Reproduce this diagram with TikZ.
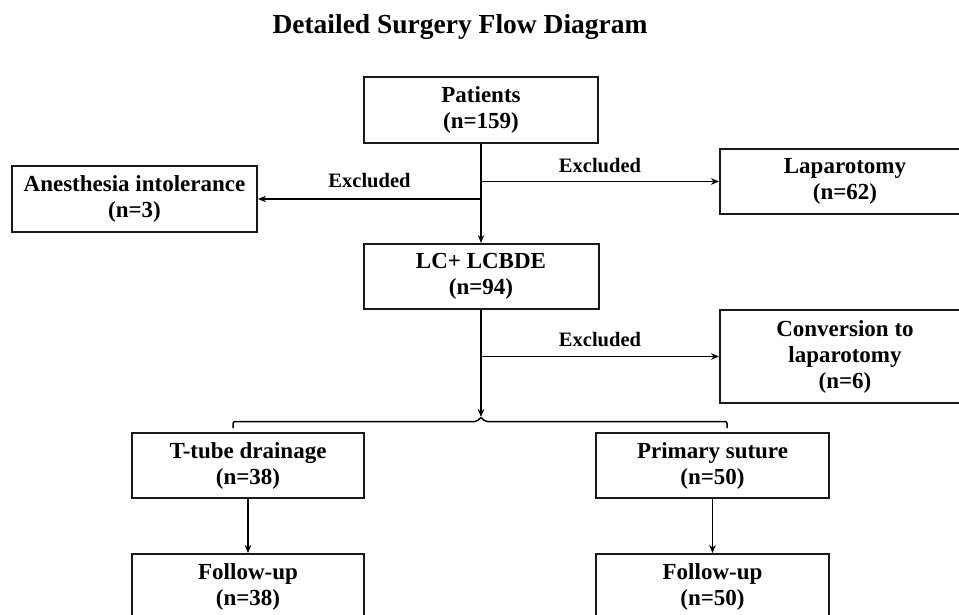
\documentclass[tikz,border=0pt]{standalone}
\usepackage{fontspec}
\setmainfont{Liberation Serif}
\usetikzlibrary{arrows.meta}
\begin{document}
\begin{tikzpicture}[x=1pt,y=-1pt,
  box/.style={draw=black!90, line width=2pt, rectangle, inner sep=0pt, align=center,
    font=\fontsize{23}{26}\selectfont\bfseries},
  arr/.style={line width=1.6pt, -{Stealth[length=8pt,width=6.5pt]}},
  lbl/.style={font=\fontsize{20.5}{22}\selectfont\bfseries, anchor=base, inner sep=0pt}]
\useasboundingbox (0,0) rectangle (959,615);
\clip (0,0) rectangle (959,615);
\fill[white] (0,0) rectangle (959,615);

\node[font=\fontsize{27.5}{30}\selectfont\bfseries, anchor=base] (title) at (460,34) {Detailed Surgery Flow Diagram};

\node[box, minimum width=234pt, minimum height=66pt] (patients) at (481,110) {Patients\\(n=159)};
\node[box, minimum width=245pt, minimum height=66pt] (anest) at (134.5,199) {Anesthesia intolerance\\(n=3)};
\node[box, minimum width=250pt, minimum height=65pt] (lap) at (845,181.5) {Laparotomy\\(n=62)};
\node[box, minimum width=235pt, minimum height=65pt] (lc) at (481,276.5) {LC+ LCBDE\\(n=94)};
\node[box, minimum width=250pt, minimum height=93pt] (conv) at (845,356.5) {Conversion to\\laparotomy\\(n=6)};
\node[box, minimum width=232pt, minimum height=65pt] (ttube) at (248,465.5) {T-tube drainage\\(n=38)};
\node[box, minimum width=233pt, minimum height=65pt] (primary) at (712.5,465.5) {Primary suture\\(n=50)};
\node[box, minimum width=232pt, minimum height=65pt] (fu1) at (248,586.5) {Follow-up\\(n=38)};
\node[box, minimum width=233pt, minimum height=65pt] (fu2) at (712.5,586.5) {Follow-up\\(n=50)};

% main trunk
\draw[arr] (patients.south) -- (lc.north);
\draw[arr] (patients.south |- anest.east) -- node[lbl, midway, yshift=11pt] {Excluded} (anest.east);
\draw[arr] (patients.south |- lap.west) -- node[lbl, midway, yshift=9pt] {Excluded} (lap.west);

\coordinate (tip) at (481,417);
\draw[arr] (lc.south) -- (tip);
\draw[arr] (lc.south |- conv.west) -- node[lbl, midway, yshift=10pt] {Excluded} (conv.west);

% bracket
\draw[line width=1.5pt, rounded corners=2pt]
  (233,428) -- (233,421.5) -- (477,421.5) -- (tip) -- (485,421.5) -- (727,421.5) -- (727,428);

\draw[arr] (ttube.south) -- (fu1.north);
\draw[arr] (primary.south) -- (fu2.north);
\end{tikzpicture}
\end{document}
